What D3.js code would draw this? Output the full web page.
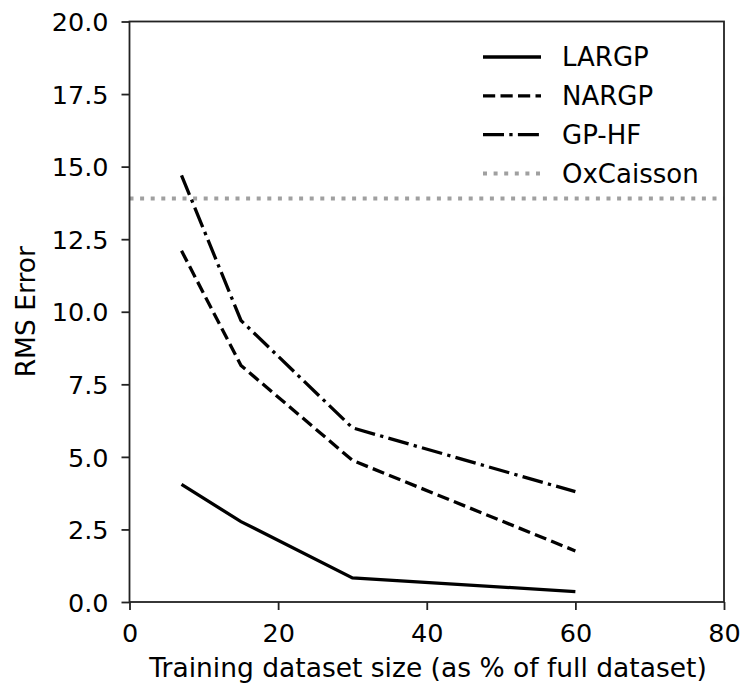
<!DOCTYPE html>
<html>
<head>
<meta charset="utf-8">
<script src="https://cdn.jsdelivr.net/npm/d3@7"></script>
<style>
  body { margin: 0; background: #fff; }
  text { font-family: "DejaVu Sans", sans-serif; }
</style>
</head>
<body>
<svg id="chart" width="745" height="686"></svg>
<script>
// training size (% of full dataset)
const sizes = [7, 15, 30, 60];
const largp = [4.05, 2.77, 0.83, 0.36];
const nargp = [12.1, 8.15, 4.88, 1.76];
const gphf = [14.7, 9.7, 6.0, 3.8];
const oxcaisson = 13.9;
const xTicks = [0, 20, 40, 60, 80];
const yTicks = [0, 2.5, 5, 7.5, 10, 12.5, 15, 17.5, 20];

const series = [
  {name: "LARGP", values: largp, dash: null},
  {name: "NARGP", values: nargp, dash: "12.2,5.3"},
  {name: "GP-HF", values: gphf, dash: "21,5.3,3.3,5.3"}
];

const svg = d3.select("#chart");
const margin = {top: 21.5, right: 21, bottom: 84, left: 129.5};
const width = 745 - margin.left - margin.right,
      height = 686 - margin.top - margin.bottom;
const g = svg.append("g").attr("transform", "translate(" + margin.left + "," + margin.top + ")");

const x = d3.scaleLinear().domain([0, 80]).range([0, width]);
const y = d3.scaleLinear().domain([0, 20]).range([height, 0]);

// oxcaisson reference line
g.append("line")
  .attr("x1", 0).attr("x2", width)
  .attr("y1", y(oxcaisson)).attr("y2", y(oxcaisson))
  .attr("stroke", "#a0a0a0")
  .attr("stroke-width", 4)
  .attr("stroke-dasharray", "4,6.6");

const line = d3.line().x((d, i) => x(sizes[i])).y(d => y(d));
series.forEach(s => {
  g.append("path")
    .datum(s.values)
    .attr("d", line)
    .attr("fill", "none")
    .attr("stroke", "#000")
    .attr("stroke-width", 3.3)
    .attr("stroke-dasharray", s.dash);
});

// axes
const xAxis = g.append("g")
  .attr("transform", "translate(0," + height + ")")
  .call(d3.axisBottom(x).tickValues(xTicks).tickFormat(d3.format("d")).tickSize(8).tickPadding(14));
const yAxis = g.append("g")
  .call(d3.axisLeft(y).tickValues(yTicks).tickFormat(d3.format(".1f")).tickSize(8).tickPadding(13));
[xAxis, yAxis].forEach(a => {
  a.selectAll("text").attr("font-size", 25.5).attr("fill", "#000").attr("font-family", "DejaVu Sans");
  a.selectAll("line").attr("stroke", "#222").attr("stroke-width", 1.8);
  a.select(".domain").remove();
});
yAxis.selectAll("text").attr("dy", "0.36em");

g.append("rect")
  .attr("width", width).attr("height", height)
  .attr("fill", "none").attr("stroke", "#222").attr("stroke-width", 1.8);

// labels
svg.append("text")
  .attr("x", 428).attr("y", 677)
  .attr("text-anchor", "middle").attr("font-size", 26.5)
  .text("Training dataset size (as % of full dataset)");
svg.append("text")
  .attr("transform", "translate(35," + (margin.top + height / 2) + ") rotate(-90)")
  .attr("text-anchor", "middle").attr("font-size", 26.5)
  .text("RMS Error");

// legend
const legendItems = series.map(s => ({name: s.name, dash: s.dash, color: "#000", w: 3.3}))
  .concat([{name: "OxCaisson", dash: "4,6.6", color: "#a0a0a0", w: 4}]);
const legend = svg.append("g").selectAll("g")
  .data(legendItems).enter().append("g")
  .attr("transform", (d, i) => "translate(483," + (57 + i * 38.8) + ")");
legend.append("line")
  .attr("x1", 0).attr("x2", 58)
  .attr("stroke", d => d.color)
  .attr("stroke-width", d => d.w)
  .attr("stroke-dasharray", d => d.dash);
legend.append("text")
  .attr("x", 79).attr("dy", "0.36em")
  .attr("font-size", 26)
  .text(d => d.name);
</script>
</body>
</html>
